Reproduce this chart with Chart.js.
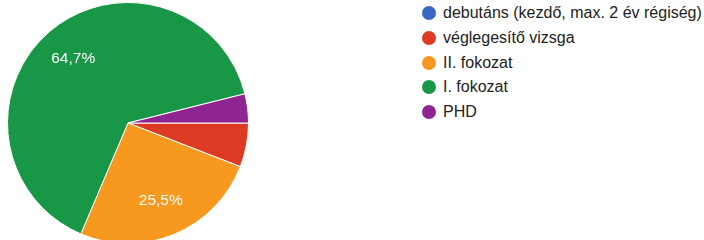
<!DOCTYPE html>
<html>
<head>
<meta charset="utf-8">
<script src="https://cdn.jsdelivr.net/npm/chart.js@4"></script>
<style>
  html, body { margin: 0; padding: 0; background: #fff; width: 704px; height: 240px; overflow: hidden; }
  #pie-wrap { position: absolute; left: 7px; top: 2px; width: 242px; height: 242px; }
  #legend { position: absolute; left: 420px; top: 0; font-family: "Liberation Sans", Arial, sans-serif; font-size: 16px; color: #222; }
  .row { position: absolute; left: 0; height: 25px; white-space: nowrap; }
  .dot { position: absolute; left: 2px; width: 14px; height: 14px; border-radius: 50%; }
  .txt { position: absolute; left: 23px; line-height: 25px; top: 0; }
</style>
</head>
<body>
<div id="pie-wrap"><canvas id="pie" width="242" height="242"></canvas></div>
<div id="legend"></div>
<script>
// Kategorien und Werte (Prozent)
const labels = ['debutáns (kezdő, max. 2 év régiség)', 'véglegesítő vizsga', 'II. fokozat', 'I. fokozat', 'PHD'];
const values = [0, 5.9, 25.5, 64.7, 3.9];
const colors = ['#3a66c4', '#dc3a22', '#f7991f', '#189747', '#8f2591'];

// Prozentbeschriftung in den großen Segmenten
const sliceLabels = {
    id: 'sliceLabels',
    afterDatasetsDraw(chart) {
        const ctx = chart.ctx;
        const meta = chart.getDatasetMeta(0);
        const total = values.reduce((a, b) => a + b, 0);
        ctx.save();
        ctx.font = '15.5px "Liberation Sans", Arial, sans-serif';
        ctx.fillStyle = '#fff';
        ctx.textAlign = 'center';
        ctx.textBaseline = 'middle';
        meta.data.forEach((arc, i) => {
            const share = values[i] / total;
            if (share < 0.1) return; // kleine Segmente ohne Text
            const mid = (arc.startAngle + arc.endAngle) / 2;
            const r = arc.outerRadius * 0.7;
            const x = arc.x + Math.cos(mid) * r;
            const y = arc.y + Math.sin(mid) * r;
            ctx.fillText(values[i].toFixed(1).replace('.', ',') + '%', x, y);
        });
        ctx.restore();
    }
};

new Chart(document.getElementById('pie'), {
    type: 'pie',
    data: {
        labels: labels,
        datasets: [{
            data: values,
            backgroundColor: colors,
            borderColor: '#fff',
            borderWidth: 1
        }]
    },
    options: {
        responsive: false,
        animation: false,
        rotation: 90,
        layout: { padding: 0 },
        plugins: {
            legend: { display: false },
            tooltip: { enabled: false }
        }
    },
    plugins: [sliceLabels]
});

// Legende rechts
const legend = document.getElementById('legend');
labels.forEach((label, i) => {
    const row = document.createElement('div');
    row.className = 'row';
    row.style.top = (i * 24.8) + 'px';
    row.innerHTML = '<span class="dot" style="top:6px;background:' + colors[i] + '"></span><span class="txt">' + label + '</span>';
    legend.appendChild(row);
});
</script>
</body>
</html>
